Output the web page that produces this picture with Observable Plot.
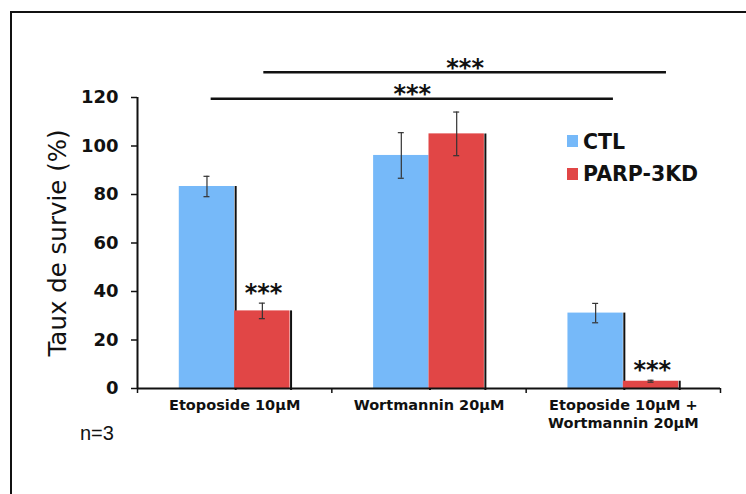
<!DOCTYPE html>
<html>
<head>
<meta charset="utf-8">
<script src="https://cdn.jsdelivr.net/npm/d3@7"></script>
<script src="https://cdn.jsdelivr.net/npm/@observablehq/plot@0.6"></script>
<style>
  html, body { margin: 0; padding: 0; background: #fff; }
  #wrap { position: relative; width: 746px; height: 494px; overflow: hidden; background: #fff; }
  #wrap svg { position: absolute; left: 0; top: 0; }
  #frame { position: absolute; left: 10px; top: 11px; right: -10px; bottom: -10px;
           border-top: 2px solid #111; border-left: 2px solid #111; pointer-events: none; }
  .lab { position: absolute; white-space: nowrap; color: #111; }
  .sw { position: absolute; width: 11px; height: 12px; }
  g[aria-label="stars"] text { letter-spacing: 2.5px; }
</style>
</head>
<body>
<div id="wrap"></div>
<script>
// ---- data ----
const categories = ["Etoposide 10µM", "Wortmannin 20µM", "Etoposide 10µM +\nWortmannin 20µM"];
const series = ["CTL", "PARP-3KD"];
const ctlValues = [83.3, 96.1, 31.1];
const ctlErrors = [4.2, 9.4, 4.0];
const parpValues = [32.0, 105.0, 3.0];
const parpErrors = [3.2, 9.0, 0.4];
const parpStarred = [true, false, true];
const yTicks = [0, 20, 40, 60, 80, 100, 120];
const colors = ["#76b9f9", "#e14646"];
// significance brackets: x in category-index units, y in %
const brackets = [
  {x1: -0.121, x2: 1.949, y: 119.5},
  {x1: 0.150, x2: 2.222, y: 130.4}
];

// ---- build rows ----
const bw = 0.285;
const ctlRows = categories.map((c, i) => ({i, s: series[0], v: ctlValues[i], e: ctlErrors[i], x1: i - bw, x2: i}));
const parpRows = categories.map((c, i) => ({i, s: series[1], v: parpValues[i], e: parpErrors[i], x1: i, x2: i + bw, star: parpStarred[i]}));
const allRows = ctlRows.concat(parpRows);
const cx = d => (d.x1 + d.x2) / 2;
const caps = allRows.flatMap(d => [{c: cx(d), y: d.v + d.e}, {c: cx(d), y: d.v - d.e}]);

const ink = "#111";
const chart = Plot.plot({
  width: 746, height: 494,
  marginLeft: 137, marginRight: 26, marginTop: 97, marginBottom: 106,
  x: {domain: [-0.5, 2.5], axis: null},
  y: {domain: [0, 120], axis: null},
  style: {fontFamily: "DejaVu Sans", background: "transparent", color: ink, overflow: "visible"},
  marks: [
    // bars with a dark right-edge shadow
    Plot.rectY(ctlRows, {x1: "x1", x2: "x2", y: "v", fill: colors[0]}),
    Plot.ruleX(ctlRows, {x: "x2", y1: 0, y2: "v", stroke: ink, strokeWidth: 2, dx: 1, insetTop: 2}),
    Plot.rectY(parpRows, {x1: "x1", x2: "x2", y: "v", fill: colors[1]}),
    Plot.ruleX(parpRows, {x: "x2", y1: 0, y2: "v", stroke: ink, strokeWidth: 2, dx: 1, insetTop: 2}),
    // error bars
    Plot.ruleX(allRows, {x: cx, y1: d => d.v - d.e, y2: d => d.v + d.e, stroke: "#333", strokeWidth: 1.2}),
    Plot.ruleY(caps, {x1: "c", x2: "c", y: "y", insetLeft: -3, insetRight: -3, stroke: "#333", strokeWidth: 1.2}),
    // axes
    Plot.axisY(yTicks, {tickSize: 6, tickPadding: 13, fontSize: 18, fontWeight: "bold", strokeWidth: 1.5, label: null}),
    Plot.ruleX([-0.5], {y1: 0, y2: 120, stroke: ink, strokeWidth: 2}),
    Plot.axisX([-0.5, 0.5, 1.5, 2.5], {tickSize: 5, tickFormat: () => "", strokeWidth: 1.5, label: null}),
    Plot.ruleY([0], {stroke: ink, strokeWidth: 2}),
    Plot.axisX([0, 1, 2], {tickSize: 0, tickPadding: 9, tickFormat: i => categories[i], fontSize: 14.5, fontWeight: "bold", lineHeight: 1.25, label: null}),
    Plot.text(["Taux de survie (%)"], {frameAnchor: "left", dx: -79, rotate: -90, fontSize: 24.5, textAnchor: "middle", lineAnchor: "middle", fill: ink}),
    // significance
    Plot.ruleY(brackets, {x1: "x1", x2: "x2", y: "y", stroke: ink, strokeWidth: 2.5}),
    Plot.text(brackets, {x: d => (d.x1 + d.x2) / 2, y: "y", text: () => "***", dy: -4, dx: 0, fontSize: 24, fontWeight: "bold", lineAnchor: "middle", fill: ink, ariaLabel: "stars"}),
    Plot.text(parpRows.filter(d => d.star), {x: cx, y: d => d.v + d.e, text: () => "***", dy: -10, dx: 1.2, fontSize: 24, fontWeight: "bold", lineAnchor: "middle", fill: ink, ariaLabel: "stars"})
  ]
});

const wrap = document.getElementById("wrap");
wrap.appendChild(chart);

// legend
const leg = [
  {label: series[0], color: colors[0], sqTop: 135, txtTop: 131.7},
  {label: series[1], color: colors[1], sqTop: 168, txtTop: 164.2}
];
for (const l of leg) {
  const sq = document.createElement("div");
  sq.className = "sw";
  sq.style.left = "567px"; sq.style.top = l.sqTop + "px"; sq.style.background = l.color;
  wrap.appendChild(sq);
  const t = document.createElement("div");
  t.className = "lab";
  t.textContent = l.label;
  t.style.cssText += "left:583px;top:" + l.txtTop + "px;font:bold 20.5px/20.5px 'DejaVu Sans';";
  wrap.appendChild(t);
}
// n=3
const n = document.createElement("div");
n.className = "lab";
n.textContent = "n=3";
n.style.cssText += "left:80px;top:423px;font:20px/20px 'Liberation Sans';";
wrap.appendChild(n);

const fr = document.createElement("div");
fr.id = "frame";
wrap.appendChild(fr);
</script>
</body>
</html>
